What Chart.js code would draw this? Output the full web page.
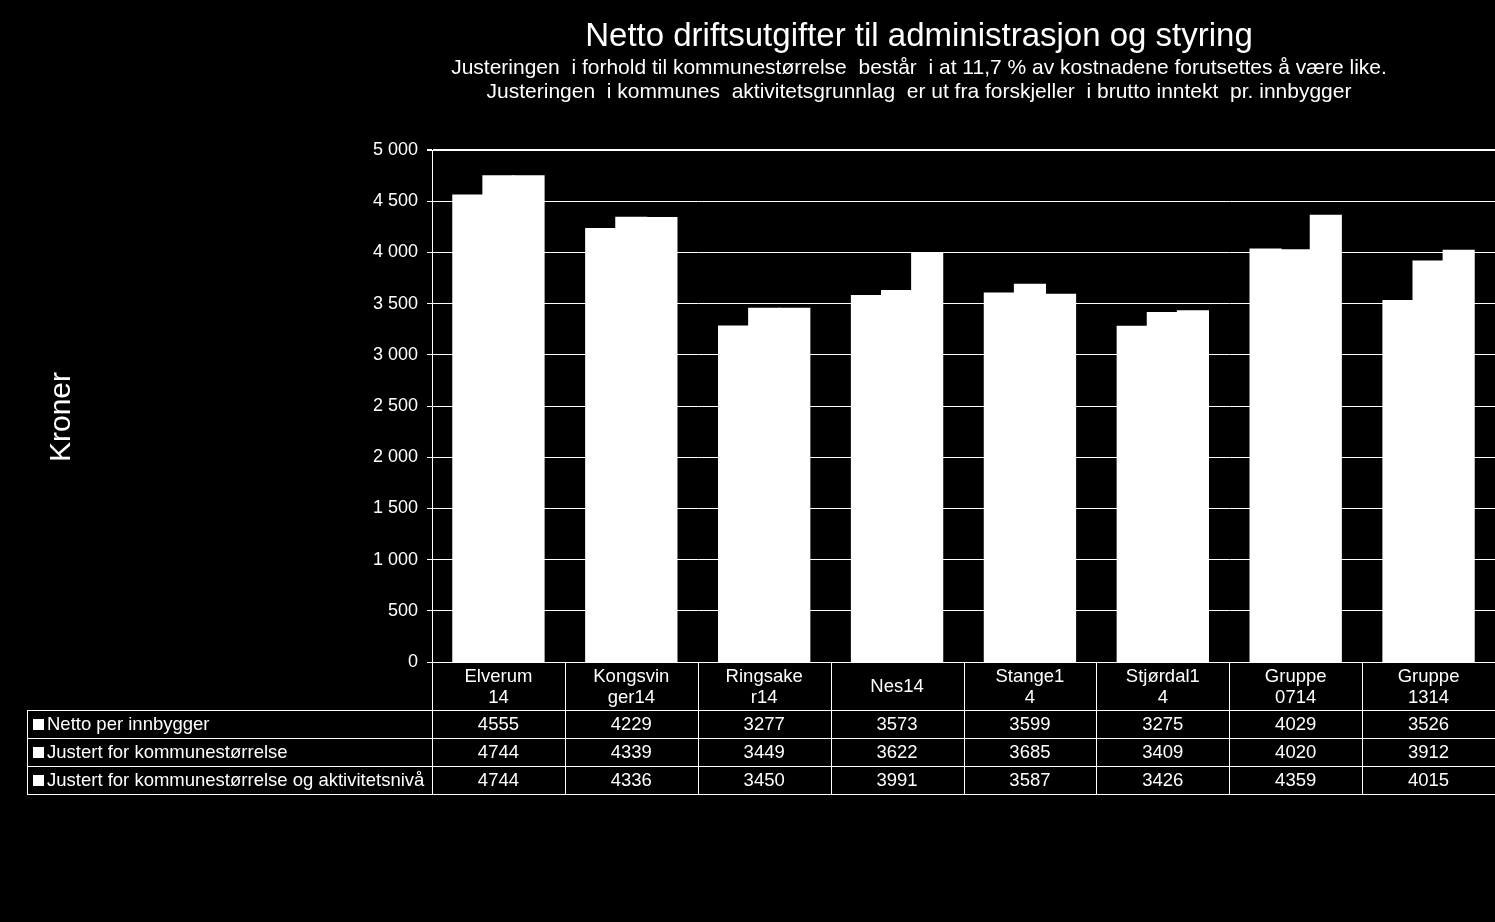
<!DOCTYPE html>
<html><head><meta charset="utf-8">
<script src="https://cdn.jsdelivr.net/npm/chart.js@4.4.1/dist/chart.umd.min.js"></script>
<style>html,body{margin:0;padding:0;background:#000;overflow:hidden}</style>
</head><body>
<canvas id="c" width="1495" height="922"></canvas>
<script>
const chartTitle = "Netto driftsutgifter til administrasjon og styring";
const subtitleLines = [
  "Justeringen  i forhold til kommunestørrelse  består  i at 11,7 % av kostnadene forutsettes å være like.",
  "Justeringen  i kommunes  aktivitetsgrunnlag  er ut fra forskjeller  i brutto inntekt  pr. innbygger"
];
const yAxisTitle = "Kroner";
const categories = [["Elverum","14"],["Kongsvin","ger14"],["Ringsake","r14"],["Nes14"],["Stange1","4"],["Stjørdal1","4"],["Gruppe","0714"],["Gruppe","1314"]];
const seriesNames = ["Netto per innbygger","Justert for kommunestørrelse","Justert for kommunestørrelse og aktivitetsnivå"];
const netto = [4555,4229,3277,3573,3599,3275,4029,3526];
const justKommune = [4744,4339,3449,3622,3685,3409,4020,3912];
const justAktivitet = [4744,4336,3450,3991,3587,3426,4359,4015];
const yMin = 0, yMax = 5000, yStep = 500;

const FONT = "'Liberation Sans', Arial, sans-serif";
function fmt(v){ return String(v).replace(/\B(?=(\d{3})+(?!\d))/g, ' '); }

const bgPlugin = {id:'bg', beforeDraw(c){const x=c.ctx; x.save(); x.fillStyle='#000'; x.fillRect(0,0,c.width,c.height); x.restore();}};

const decoPlugin = {id:'deco', afterDraw(chart){
  const ctx = chart.ctx, xs = chart.scales.x, ca = chart.chartArea;
  const seriesData = chart.data.datasets.map(d=>d.data);
  ctx.save();
  ctx.fillStyle = '#fff'; ctx.strokeStyle = '#fff'; ctx.lineWidth = 1;
  ctx.textAlign = 'center'; ctx.textBaseline = 'middle';
  ctx.font = `33px ${FONT}`; ctx.fillText(chartTitle, 919, 37);
  ctx.font = `21px ${FONT}`;
  subtitleLines.forEach((s,i)=>ctx.fillText(s, 919, 68+i*24));
  ctx.save(); ctx.translate(62, 417); ctx.rotate(-Math.PI/2);
  ctx.font = `30px ${FONT}`; ctx.fillText(yAxisTitle, 0, 0); ctx.restore();

  // data table
  const top = ca.bottom, headH = 48, rowH = 28;
  const tableLeft = 27, right = chart.width;
  const n = categories.length;
  const half = (xs.getPixelForValue(1) - xs.getPixelForValue(0))/2;
  const rowTops = seriesNames.map((_,i)=>top+headH+i*rowH);
  const bottom = top+headH+seriesNames.length*rowH;
  ctx.beginPath();
  rowTops.concat([bottom]).forEach(y=>{ctx.moveTo(tableLeft, Math.round(y)+0.5); ctx.lineTo(right, Math.round(y)+0.5);});
  ctx.moveTo(tableLeft+0.5, rowTops[0]); ctx.lineTo(tableLeft+0.5, bottom+1);
  ctx.moveTo(Math.round(ca.left)+0.5, top); ctx.lineTo(Math.round(ca.left)+0.5, bottom+1);
  for(let i=0;i<n;i++){
    const bx = Math.round(xs.getPixelForValue(i)+half)+0.5;
    ctx.moveTo(bx, top); ctx.lineTo(bx, bottom+1);
  }
  ctx.stroke();
  ctx.font = `18.5px ${FONT}`;
  for(let i=0;i<n;i++){
    const cx = xs.getPixelForValue(i);
    const lines = categories[i];
    const lh = 21, mid = top+headH/2+1;
    lines.forEach((l,k)=>ctx.fillText(l, cx, mid + (k-(lines.length-1)/2)*lh));
    seriesData.forEach((arr,s)=>ctx.fillText(String(arr[i]), cx, rowTops[s]+rowH/2+1));
  }
  ctx.textAlign = 'left';
  seriesNames.forEach((name,s)=>{
    const cy = rowTops[s]+rowH/2;
    ctx.fillRect(33, cy-5, 11, 11);
    ctx.fillText(name, 47, cy+1);
  });
  ctx.restore();
}};

new Chart(document.getElementById('c'), {
  type: 'bar',
  data: {
    labels: categories,
    datasets: [
      {label: seriesNames[0], data: netto},
      {label: seriesNames[1], data: justKommune},
      {label: seriesNames[2], data: justAktivitet}
    ].map(d=>Object.assign(d,{backgroundColor:'#fff', borderWidth:0, inflateAmount:1, barPercentage:1.0, categoryPercentage:0.68}))
  },
  options: {
    responsive: false, animation: false,
    layout: {padding: {top: 150, bottom: 260, left: 0, right: 0}},
    plugins: {legend: {display:false}, tooltip: {enabled:false}, title: {display:false}},
    scales: {
      x: {display: false},
      y: {
        min: yMin, max: yMax,
        afterFit(scale){ scale.width = 432; },
        border: {display: true, color: '#fff', width: 1},
        grid: {color: '#fff', lineWidth: c => (c.tick && c.tick.value === yMax) ? 2 : 1, tickLength: 5, drawTicks: true, tickColor: '#fff'},
        ticks: {stepSize: yStep, color: '#fff', padding: 9, font: {family: FONT, size: 18}, callback: v => fmt(v)}
      }
    }
  },
  plugins: [bgPlugin, decoPlugin]
});
</script>
</body></html>
